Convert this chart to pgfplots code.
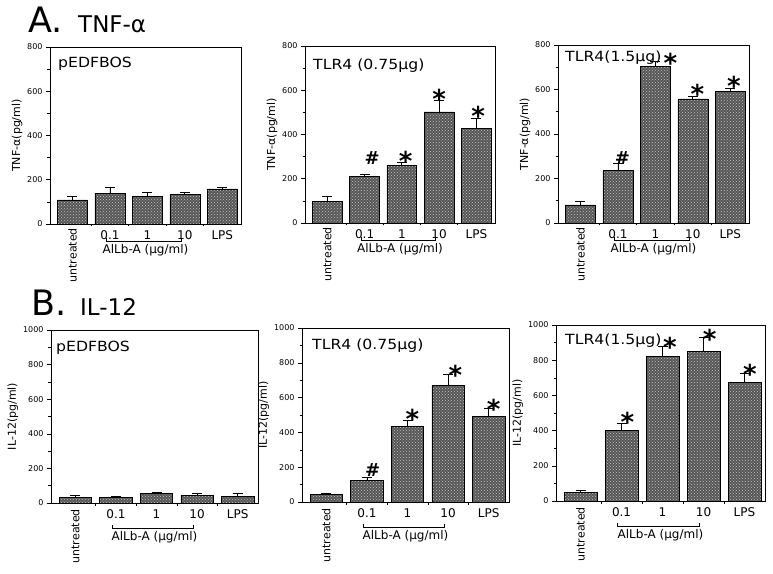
\documentclass[border=0pt]{standalone}
\usepackage{pgfplots}
\pgfplotsset{compat=1.18}
\usepackage{fontspec}
\setmainfont{DejaVu Sans}
\newfontfamily\labfont{DejaVu Sans}[FakeStretch=1.12]
\usetikzlibrary{patterns}

\newcommand\xfont{\fontsize{12}{12}\selectfont}
% untreated label, bracket under 0.1..10 and its caption
\newcommand\xdecor[3]{%
  \node[rotate=90, anchor=east, font=\fontsize{11}{11}\selectfont, inner sep=0pt] at ([yshift=-#3]axis cs:0,0) {untreated};
  \draw[line width=0.6pt] ([yshift={-#1+3pt}]axis cs:0.9,0) -- ([yshift=-#1]axis cs:0.9,0)
     -- ([yshift=-#1]axis cs:2.9,0) -- ([yshift={-#1+3pt}]axis cs:2.9,0);
  \node[font=\fontsize{12}{12}\selectfont] at ([yshift=-#2]axis cs:1.95,0) {AlLb-A (μg/ml)};
}
\newcommand\starat[2]{\node[font=\fontsize{26}{26}\selectfont\bfseries, inner sep=0pt, yshift=-6pt] at (axis cs:#1,#2) {*};}
\newcommand\hashat[2]{\node[font=\fontsize{18}{18}\selectfont\bfseries, inner sep=0pt] at (axis cs:#1,#2) {\char35};}

\tikzset{lab/.style={anchor=north west, inner sep=0pt,
    font=\labfont\fontsize{14}{14}\selectfont}}

\pgfplotsset{
  panel/.style={
    scale only axis, anchor=south west, clip=false,
    ybar, bar width=0.8,
    xmin=-0.6, xmax=4.5, ymin=0,
    axis line style={line width=0.8pt},
    xtick={0,...,4}, xticklabels={,0.1,1,10,LPS},
    major x tick style={draw=none},
    minor xtick={0.5,1.5,2.5,3.5},
    tick align=outside, xtick pos=bottom, ytick pos=left,
    major tick length=4pt, minor tick length=2.5pt,
    tick style={line width=0.6pt, black},
    xticklabel style={font=\xfont, yshift=1pt},
    yticklabel style={font=\fontsize{8}{8}\selectfont},
    ylabel style={font=\fontsize{11}{11}\selectfont, yshift=-2pt},
    /pgf/number format/assume math mode=true,
    /pgf/number format/1000 sep={},
    error bars/y dir=plus, error bars/y explicit,
    error bars/error bar style={line width=0.8pt, black},
    error bars/error mark options={rotate=90, mark size=5pt, line width=0.8pt, black},
  },
  bars/.style={draw=black, line width=0.6pt, fill=black!66,
    postaction={pattern=crosshatch dots, pattern color=black!25}},
  tnf/.style={ymax=800, ytick={0,200,...,800}, minor ytick={100,300,...,700},
    ylabel={TNF-α(pg/ml)}},
  il/.style={ymax=1000, ytick={0,200,...,1000}, minor ytick={100,300,...,900},
    ylabel={IL-12(pg/ml)}},
}

\begin{document}
\begin{tikzpicture}
\useasboundingbox (0pt,0pt) rectangle (773pt,573pt);

\node[anchor=base west, inner sep=0pt, font=\fontsize{35}{35}\selectfont] at (28pt,540pt) {A.};
\node[anchor=base west, inner sep=0pt, font=\fontsize{23}{23}\selectfont] at (78pt,540pt) {TNF-α};
\node[anchor=base west, inner sep=0pt, font=\fontsize{35}{35}\selectfont] at (31pt,257pt) {B.};
\node[anchor=base west, inner sep=0pt, font=\fontsize{23}{23}\selectfont] at (80pt,257pt) {IL-12};

% ---- A: TNF-alpha ----
\begin{axis}[panel, tnf, at={(50pt,349pt)}, width=191pt, height=177pt]
\addplot[bars] table[x=x, y=y, y error=e] {
x y e
0 109 15
1 139 27
2 124 20
3 132 12
4 159 7
};
\node[lab] at ([xshift=8pt, yshift=-10pt]rel axis cs:0,1) {pEDFBOS};
\xdecor{17pt}{26pt}{4pt}
\end{axis}

\begin{axis}[panel, tnf, at={(305pt,350pt)}, width=190pt, height=177pt]
\addplot[bars] table[x=x, y=y, y error=e] {
x y e
0 98 22
1 210 11
2 260 14
3 502 54
4 426 48
};
\node[lab] at ([xshift=8pt, yshift=-13pt]rel axis cs:0,1) {TLR4 (0.75μg)};
\hashat{1.2}{293}
\starat{2.1}{308}
\starat{3.0}{586}
\starat{4.05}{511}
\xdecor{17pt}{26pt}{4pt}
\end{axis}

\begin{axis}[panel, tnf, at={(558pt,350pt)}, width=191pt, height=178pt]
\addplot[bars] table[x=x, y=y, y error=e] {
x y e
0 81 14
1 235 33
2 705 21
3 558 12
4 592 14
};
\node[lab] at ([xshift=7pt, yshift=-6pt]rel axis cs:0,1) {TLR4(1.5μg)};
\hashat{1.12}{290}
\starat{2.4}{749}
\starat{3.12}{606}
\starat{4.1}{644}
\xdecor{17pt}{26pt}{4pt}
\end{axis}

% ---- B: IL-12 ----
\begin{axis}[panel, il, at={(51pt,70pt)}, width=207pt, height=173pt]
\addplot[bars] table[x=x, y=y, y error=e] {
x y e
0 33 9
1 31 5
2 56 7
3 44 14
4 40 14
};
\node[lab] at ([xshift=5pt, yshift=-11pt]rel axis cs:0,1) {pEDFBOS};
\xdecor{25pt}{34pt}{6pt}
\end{axis}

\begin{axis}[panel, il, at={(302pt,71pt)}, width=207pt, height=174pt]
\addplot[bars] table[x=x, y=y, y error=e] {
x y e
0 42 10
1 122 17
2 433 38
3 672 63
4 494 46
};
\node[lab] at ([xshift=10pt, yshift=-11pt]rel axis cs:0,1) {TLR4 (0.75μg)};
\hashat{1.14}{185}
\starat{2.12}{510}
\starat{3.18}{767}
\starat{4.12}{571}
\xdecor{25pt}{34pt}{6pt}
\end{axis}

\begin{axis}[panel, il, at={(556pt,72pt)}, width=209pt, height=176pt]
\addplot[bars] table[x=x, y=y, y error=e] {
x y e
0 48 11
1 403 36
2 821 55
3 849 80
4 674 51
};
\node[lab] at ([xshift=9pt, yshift=-9pt]rel axis cs:0,1) {TLR4(1.5μg)};
\starat{1.14}{481}
\starat{2.18}{910}
\starat{3.15}{958}
\starat{4.13}{758}
\xdecor{25pt}{34pt}{6pt}
\end{axis}
\end{tikzpicture}
\end{document}
